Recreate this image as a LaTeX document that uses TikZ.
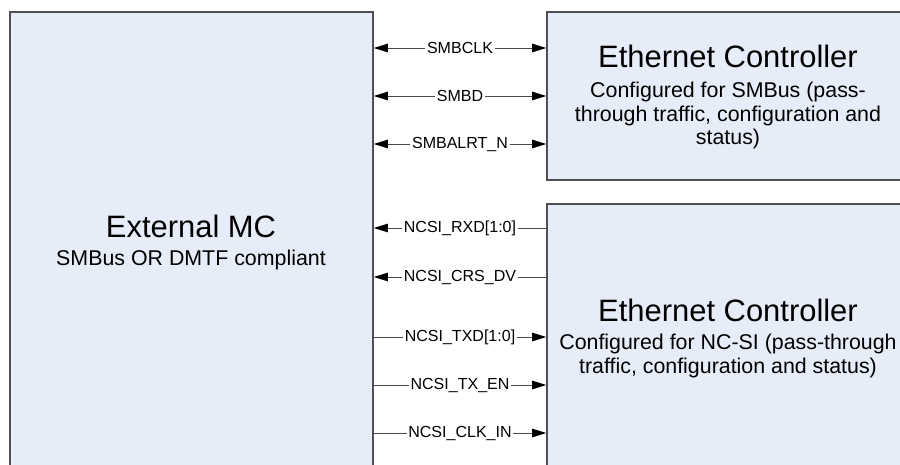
\documentclass[tikz,border=0pt]{standalone}
\usepackage{fontspec}
\setmainfont{Liberation Sans}
\usepackage{xcolor}
\usetikzlibrary{positioning,arrows.meta}
\definecolor{boxfill}{HTML}{E6EDF8}
\definecolor{boxline}{HTML}{505050}
\definecolor{wirecol}{HTML}{4A4A4A}

\begin{document}
\begin{tikzpicture}[
  box/.style={
    draw=boxline, fill=boxfill, line width=1pt,
    minimum width=9.075cm, inner sep=0pt,
  },
  title/.style={font=\fontsize{22}{26}\selectfont, anchor=base, inner sep=0pt},
  subtitle/.style={font=\fontsize{15.2}{17.07}\selectfont, align=center, anchor=base, inner sep=0pt},
  sig/.style={font=\fontsize{11.4}{13}\selectfont, inner sep=1pt},
  wire/.style={line width=0.7pt, draw=wirecol},
  wirearrow/.style={wire, -{Triangle[length=10pt, width=6pt, color=black]}},
]
\clip (0,0) rectangle (22.5,11.6);

% =================== boxes ===================
\node[box, minimum height=11.8cm] (mc) at (4.7875, 5.4) {};
\node[box, minimum height=4.2cm] (ec1) at (18.2125, 9.2) {};
\node[box, minimum height=7.0cm] (ec2) at (18.2125, 3.0) {};

% box texts
\node[title] (mctitle) at (4.775, 5.675) {External MC};
\node[subtitle] (mcsub) at (4.775, 4.975) {SMBus OR DMTF compliant};

\node[title] (ec1title) at (18.2, 9.9) {Ethernet Controller};
\node[subtitle] (ec1sub) at (18.2, 7.975)
  {Configured for SMBus (pass-\\through traffic, configuration and\\status)};

\node[title] (ec2title) at (18.2, 3.575) {Ethernet Controller};
\node[subtitle] (ec2sub) at (18.2, 2.275)
  {Configured for NC-SI (pass-through\\traffic, configuration and status)};

% =================== SMBus signals ===================
\node[sig] (smbclk) at (11.5, 10.4) {SMBCLK};
\node[sig] (smbd) at (11.5, 9.2) {SMBD};
\node[sig] (smbalrt) at (11.5, 8.0) {SMBALRT\_N};

\draw[wirearrow] (smbclk) -- (smbclk -| mc.east);
\draw[wirearrow] (smbclk) -- (smbclk -| ec1.west);
\draw[wirearrow] (smbd) -- (smbd -| mc.east);
\draw[wirearrow] (smbd) -- (smbd -| ec1.west);
\draw[wirearrow] (smbalrt) -- (smbalrt -| mc.east);
\draw[wirearrow] (smbalrt) -- (smbalrt -| ec1.west);

% =================== NC-SI signals ===================
\node[sig] (rxd) at (11.5, 5.9) {NCSI\_RXD[1:0]};
\node[sig] (crsdv) at (11.5, 4.675) {NCSI\_CRS\_DV};
\node[sig] (txd) at (11.5, 3.175) {NCSI\_TXD[1:0]};
\node[sig] (txen) at (11.5, 1.975) {NCSI\_TX\_EN};
\node[sig] (clkin) at (11.5, 0.775) {NCSI\_CLK\_IN};

\draw[wirearrow] (rxd) -- (rxd -| mc.east);
\draw[wire] (rxd) -- (rxd -| ec2.west);
\draw[wirearrow] (crsdv) -- (crsdv -| mc.east);
\draw[wire] (crsdv) -- (crsdv -| ec2.west);
\draw[wire] (txd) -- (txd -| mc.east);
\draw[wirearrow] (txd) -- (txd -| ec2.west);
\draw[wire] (txen) -- (txen -| mc.east);
\draw[wirearrow] (txen) -- (txen -| ec2.west);
\draw[wire] (clkin) -- (clkin -| mc.east);
\draw[wirearrow] (clkin) -- (clkin -| ec2.west);

\end{tikzpicture}
\end{document}
